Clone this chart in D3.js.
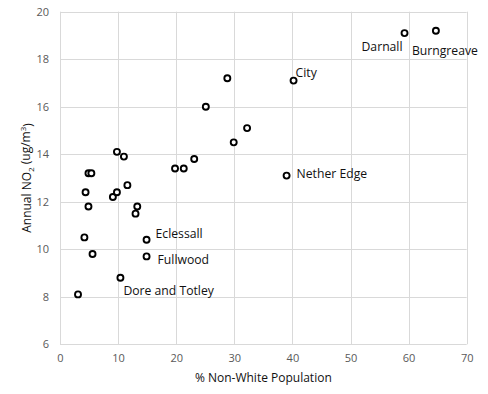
<!DOCTYPE html>
<meta charset="utf-8">
<style>
  body { margin: 0; background: #fff; }
  text { font-family: "Open Sans", "Noto Sans", sans-serif; }
</style>
<body></body>
<script src="https://d3js.org/d3.v7.min.js"></script>
<script>

// % non-white population vs annual NO2, one point per ward
const pctNonWhite = [3.1, 4.2, 4.4, 4.9, 4.9, 5.4, 5.6, 9.1, 9.8, 9.8, 10.4, 11.0, 11.6, 13.0, 13.3,
                     14.9, 14.9, 19.8, 21.3, 23.1, 25.1, 28.8, 29.9, 32.2, 39.0, 40.2, 59.3, 64.7];
const no2 = [8.1, 10.5, 12.4, 11.8, 13.2, 13.2, 9.8, 12.2, 14.1, 12.4, 8.8, 13.9, 12.7, 11.5, 11.8,
             10.4, 9.7, 13.4, 13.4, 13.8, 16.0, 17.2, 14.5, 15.1, 13.1, 17.1, 19.1, 19.2];
const wardNames = ["", "", "", "", "", "", "", "", "", "", "Dore and Totley", "", "", "", "",
                   "Eclessall", "Fullwood", "", "", "", "", "", "", "", "Nether Edge", "City", "Darnall", "Burngreave"];

const xTicks = [0, 10, 20, 30, 40, 50, 60, 70];
const yTicks = [6, 8, 10, 12, 14, 16, 18, 20];

// where each label sits relative to its point
const labelPos = {
  "Darnall":         { dx: -2,  dy: 14, anchor: "end" },
  "Burngreave":      { dx: -24, dy: 20, anchor: "start" },
  "City":            { dx: 2,   dy: -8, anchor: "start" },
  "Nether Edge":     { dx: 10,  dy: -2, anchor: "start" },
  "Eclessall":       { dx: 9,   dy: -6, anchor: "start" },
  "Fullwood":        { dx: 11,  dy: 3,  anchor: "start" },
  "Dore and Totley": { dx: 3,   dy: 13, anchor: "start" }
};

const data = pctNonWhite.map((d, i) => ({ x: d, y: no2[i], name: wardNames[i] }));

const width = 488, height = 394;
const margin = { top: 11.7, right: 21.3, bottom: 49.7, left: 60 };

const svg = d3.select("body").append("svg")
    .attr("width", width)
    .attr("height", height);

const x = d3.scaleLinear().domain([0, 70]).range([margin.left, width - margin.right]);
const y = d3.scaleLinear().domain([6, 20]).range([height - margin.bottom, margin.top]);

// gridlines
const grid = svg.append("g").attr("stroke", "#d9d9d9").attr("stroke-width", 1);
grid.selectAll("line.v")
  .data(xTicks)
  .join("line")
    .attr("class", "v")
    .attr("x1", d => Math.round(x(d)) + 0.5).attr("x2", d => Math.round(x(d)) + 0.5)
    .attr("y1", y(20)).attr("y2", y(6));
grid.selectAll("line.h")
  .data(yTicks)
  .join("line")
    .attr("class", "h")
    .attr("x1", x(0)).attr("x2", x(70))
    .attr("y1", d => Math.round(y(d)) + 0.5).attr("y2", d => Math.round(y(d)) + 0.5);

// axes (labels only, lines come from the grid)
const xAxis = svg.append("g")
    .attr("transform", `translate(0,${y(6)})`)
    .call(d3.axisBottom(x).tickValues(xTicks).tickSize(0).tickPadding(10));
const yAxis = svg.append("g")
    .attr("transform", `translate(${x(0)},0)`)
    .call(d3.axisLeft(y).tickValues(yTicks).tickSize(0).tickPadding(11));
[xAxis, yAxis].forEach(a => {
  a.select(".domain").remove();
  a.selectAll("text")
    .attr("font-family", "Open Sans, sans-serif")
    .attr("font-size", 11)
    .attr("fill", "#595959");
});

// points
svg.append("g")
  .selectAll("circle")
  .data(data)
  .join("circle")
    .attr("cx", d => x(d.x))
    .attr("cy", d => y(d.y))
    .attr("r", 3)
    .attr("fill", "#fff")
    .attr("stroke", "#000")
    .attr("stroke-width", 1.9);

// ward labels
svg.append("g")
  .selectAll("text")
  .data(data.filter(d => d.name))
  .join("text")
    .attr("x", d => x(d.x) + labelPos[d.name].dx)
    .attr("y", d => y(d.y) + labelPos[d.name].dy)
    .attr("dy", "0.35em")
    .attr("text-anchor", d => labelPos[d.name].anchor)
    .attr("font-size", 12.2)
    .attr("fill", "#111")
    .text(d => d.name);

// axis titles
svg.append("text")
    .attr("x", (x(0) + x(70)) / 2)
    .attr("y", 378)
    .attr("dy", "0.35em")
    .attr("text-anchor", "middle")
    .attr("font-size", 12)
    .attr("fill", "#111")
    .text("% Non-White Population");

const yt = svg.append("text")
    .attr("transform", `translate(27,${(y(6) + y(20)) / 2}) rotate(-90)`)
    .attr("dy", "0.35em")
    .attr("text-anchor", "middle")
    .attr("font-size", 12)
    .attr("fill", "#111");
yt.append("tspan").text("Annual NO");
yt.append("tspan").attr("font-size", 8).attr("dy", "0.35em").text("2");
yt.append("tspan").attr("dy", "-0.35em").text(" (ug/m");
yt.append("tspan").attr("font-size", 8).attr("dy", "-0.45em").text("3");
yt.append("tspan").attr("dy", "0.45em").text(")");

</script>
